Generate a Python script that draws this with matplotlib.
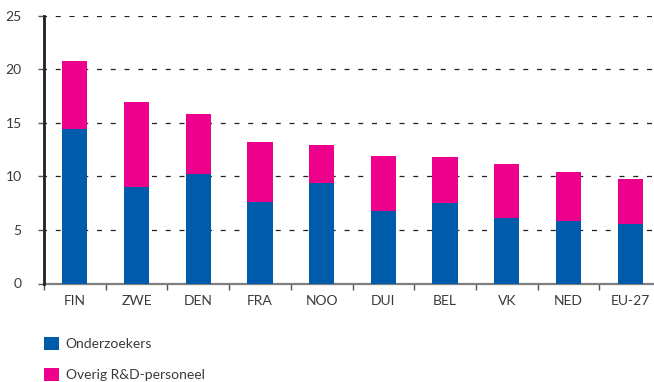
import matplotlib
matplotlib.use("Agg")
import matplotlib.pyplot as plt
from matplotlib.patches import Patch
import numpy as np

# R&D personnel per 1000 workers, by country
countries = ["FIN", "ZWE", "DEN", "FRA", "NOO", "DUI", "BEL", "VK", "NED", "EU-27"]
onderzoekers = [14.4, 9.0, 10.2, 7.6, 9.4, 6.8, 7.5, 6.1, 5.8, 5.6]
overig = [6.4, 7.9, 5.6, 5.6, 3.5, 5.1, 4.3, 5.1, 4.6, 4.2]
yticks = [0, 5, 10, 15, 20, 25]

blue = "#005BAA"
magenta = "#EC008C"
text_col = "#3a3a3a"

plt.rcParams["font.family"] = ["Lato", "DejaVu Sans"]

fig = plt.figure(figsize=(6.54, 3.82), dpi=100)
ax = fig.add_axes([44 / 654, 1 - 283.5 / 382, (661 - 44) / 654, (283.5 - 15.7) / 382])

x = np.arange(len(countries))
w = 0.41
b1 = ax.bar(x, onderzoekers, width=w, color=blue, zorder=3, label="Onderzoekers")
b2 = ax.bar(x, overig, width=w, bottom=onderzoekers, color=magenta, zorder=3,
            label="Overig R&D-personeel")

ax.set_xlim(-0.5, len(countries) - 0.5)
ax.set_ylim(0, 25)
ax.set_yticks(yticks)
ax.set_yticklabels([str(v) for v in yticks])

# category labels centred under bars, tick marks at boundaries
ax.set_xticks(np.arange(len(countries) + 1) - 0.5)
ax.set_xticklabels([])
ax.set_xticks(x, minor=True)
ax.set_xticklabels(countries, minor=True)
ax.tick_params(axis="x", which="minor", length=0, pad=8, labelsize=10, labelcolor=text_col)
ax.tick_params(axis="x", which="major", length=4, width=1, color="#555555", direction="out")
ax.tick_params(axis="y", length=4, width=1, color="#555555", pad=12, labelsize=10,
               labelcolor=text_col)

for v in yticks[1:]:
    ax.axhline(v, color="#222222", lw=0.9, linestyle=(2, (4.0, 7.0)), zorder=1)

for s in ["top", "right"]:
    ax.spines[s].set_visible(False)
ax.spines["left"].set_color("#231f20")
ax.spines["left"].set_linewidth(2.0)
ax.spines["bottom"].set_color("#7f7f7f")
ax.spines["bottom"].set_linewidth(1.6)
ax.spines["left"].set_zorder(4)

handles = [Patch(facecolor=blue, edgecolor="none"), Patch(facecolor=magenta, edgecolor="none")]
fig.legend(handles, ["Onderzoekers", "Overig R&D-personeel"],
           loc="upper left", bbox_to_anchor=(31 / 654, 1 - 324 / 382),
           frameon=False, fontsize=10, handlelength=1.15, handleheight=1.15,
           handletextpad=0.45, labelspacing=1.25, labelcolor=text_col)

fig.savefig("out.png", dpi=100)
